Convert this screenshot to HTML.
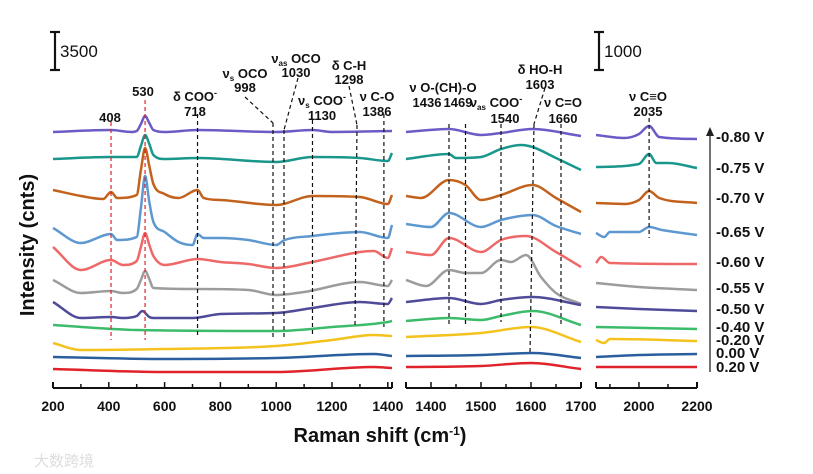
<!DOCTYPE html>
<html><head><meta charset="utf-8"><style>
html,body{margin:0;padding:0;background:#fff;}
svg{display:block;font-family:"Liberation Sans",Arial,sans-serif;}
.ann{font-size:13px;font-weight:bold;fill:#111;text-anchor:middle;}
.tick{font-size:14px;font-weight:bold;fill:#111;text-anchor:middle;}
.vl{font-size:15px;font-weight:bold;fill:#111;}
</style></head><body>
<svg id="chart" width="813" height="474" viewBox="0 0 813 474"></svg>
<script>
// ---- data (stacked intensity, a.u.) ----
const potentials = ["-0.80 V","-0.75 V","-0.70 V","-0.65 V","-0.60 V","-0.55 V","-0.50 V","-0.40 V","-0.20 V","0.00 V","0.20 V"];
const colors = ["#6a5bc6","#1a978c","#c2621c","#5e98d0","#ee6868","#9c9c9c","#4e4c98","#3cbb6b","#f4c21d","#2b5e9e","#e0222b"];
const labelY = [137,168,198,232,262,288,309,327,340,353,367];
// panel 1 (200-1415 cm-1)
const p1wn = [
 [200,408,480,500,515,530,545,560,600,718,1000,1130,1200,1415],
 [200,408,500,515,530,545,560,600,718,1000,1130,1300,1400,1415],
 [200,300,380,408,430,500,515,530,545,560,600,650,718,740,800,1000,1130,1300,1400,1415],
 [200,300,408,430,500,515,530,545,560,600,650,700,718,740,800,900,1000,1030,1130,1300,1400,1415],
 [200,300,408,450,500,515,530,545,560,600,718,800,900,1000,1130,1300,1350,1400,1415],
 [200,300,408,450,500,515,530,545,560,718,900,1000,1100,1300,1400,1415],
 [200,300,408,450,500,520,545,560,700,800,1000,1130,1300,1400,1415],
 [200,500,1000,1200,1400,1415],
 [200,300,600,1000,1200,1350,1415],
 [200,600,1000,1350,1415],
 [200,600,1000,1350,1415]];
const p1val = [
 [248,250,248,249,256,264,257,250,248,250,248,250,248,249],
 [221,223,223,234,245,236,225,221,222,218,223,222,219,227],
 [190,184,181,188,182,185,210,232,214,196,186,182,190,182,180,175,184,183,176,185],
 [152,137,146,140,143,172,204,178,158,148,138,135,146,142,142,140,135,140,144,148,142,155],
 [133,110,120,115,119,133,147,135,124,115,121,118,116,112,118,128,129,122,132],
 [100,87,89,87,91,100,109,101,92,91,90,85,88,98,94,100],
 [78,62,63,62,64,69,63,62,62,66,67,72,78,76,82],
 [55,50,49,53,58,59],
 [37,30,31,34,40,45,44],
 [23,21,22,26,24],
 [11,8,8,13,12]];
// panel 2 (1350-1700 cm-1)
const p2wn = [
 [1350,1436,1500,1540,1603,1700],
 [1350,1436,1450,1500,1540,1580,1603,1650,1700],
 [1350,1380,1436,1469,1500,1540,1603,1650,1700],
 [1350,1400,1436,1500,1540,1603,1650,1700],
 [1350,1400,1436,1500,1540,1590,1650,1700],
 [1350,1390,1436,1469,1500,1540,1560,1590,1620,1650,1700],
 [1350,1436,1500,1540,1603,1700],
 [1350,1436,1500,1540,1603,1700],
 [1350,1500,1600,1700],
 [1350,1500,1603,1700],
 [1350,1500,1600,1700]];
const p2val = [
 [248,251,245,247,251,244],
 [221,226,222,223,231,235,233,222,210],
 [184,182,200,195,180,185,195,182,168],
 [156,153,167,153,160,165,154,146],
 [128,125,142,128,140,144,128,113],
 [100,94,110,107,107,120,118,125,103,87,76],
 [78,82,76,80,83,75],
 [59,62,60,64,69,55],
 [43,47,53,38],
 [24,25,27,22],
 [13,14,17,11]];
// panel 3 (1852-2200 cm-1)
const p3wn = [
 [1852,1950,2000,2035,2070,2200],
 [1852,2000,2035,2060,2100,2200],
 [1852,1950,2000,2035,2070,2200],
 [1852,1880,1900,2000,2035,2080,2200],
 [1852,1870,1900,2200],
 [1852,2000,2200],
 [1852,2000,2200],
 [1852,2200],
 [1852,1880,1900,2200],
 [1852,2000,2200],
 [1852,2200]];
const p3val = [
 [245,242,246,254,243,241],
 [213,216,226,217,217,212],
 [177,176,180,189,182,177],
 [147,143,148,148,153,150,145],
 [117,123,117,116],
 [97,93,90],
 [73,71,69],
 [53,51],
 [40,37,41,39],
 [23,25,26],
 [13,13]];
const ticks1 = [200,400,600,800,1000,1200,1400];
const ticks2 = [1400,1500,1600,1700];
const ticks3 = [2000,2200];

// ---- scales ----
const NS="http://www.w3.org/2000/svg";
const svg=document.getElementById('chart');
function el(t,a,p){const e=document.createElementNS(NS,t);for(const k in a)e.setAttribute(k,a[k]);(p||svg).appendChild(e);return e;}
const panels=[
 {x0:200,x1:1415,px0:53,px1:392,wn:p1wn,val:p1val,ticks:ticks1,minor:100,name:'panel-low'},
 {x0:1350,x1:1700,px0:406,px1:581,wn:p2wn,val:p2val,ticks:ticks2,minor:50,name:'panel-mid'},
 {x0:1852,x1:2200,px0:596,px1:697,wn:p3wn,val:p3val,ticks:ticks3,minor:100,name:'panel-high'}];
const yS=v=>380-v;
function xS(p,w){return p.px0+(w-p.x0)/(p.x1-p.x0)*(p.px1-p.px0);}
// monotone cubic (Fritsch-Carlson) path
function smooth(pts){const n=pts.length;
 if(n<2)return '';
 const d=[],m=[];
 for(let i=0;i<n-1;i++)d.push((pts[i+1][1]-pts[i][1])/(pts[i+1][0]-pts[i][0]));
 m[0]=d[0];m[n-1]=d[n-2];
 for(let i=1;i<n-1;i++){m[i]=(d[i-1]*d[i]<=0)?0:(d[i-1]+d[i])/2;}
 for(let i=0;i<n-1;i++){if(d[i]===0){m[i]=0;m[i+1]=0;continue;}
  const a=m[i]/d[i],b=m[i+1]/d[i],s=a*a+b*b;
  if(s>9){const t=3/Math.sqrt(s);m[i]=t*a*d[i];m[i+1]=t*b*d[i];}}
 let s=`M${pts[0][0].toFixed(1)},${pts[0][1].toFixed(1)}`;
 for(let i=0;i<n-1;i++){const h=(pts[i+1][0]-pts[i][0])/3;
  s+=` C${(pts[i][0]+h).toFixed(1)},${(pts[i][1]+m[i]*h).toFixed(1)} ${(pts[i+1][0]-h).toFixed(1)},${(pts[i+1][1]-m[i+1]*h).toFixed(1)} ${pts[i+1][0].toFixed(1)},${pts[i+1][1].toFixed(1)}`;}
 return s;}

panels.forEach(p=>{
 const g=el('g',{});
 
 
 p.wn.forEach((ws,i)=>{
  const pts=ws.map((w,j)=>[xS(p,w),yS(p.val[i][j])]);
  const path=el('path',{d:smooth(pts),fill:'none',stroke:colors[i],'stroke-width':2.5,'stroke-linejoin':'round'},g);
  
  
 });
 const ax=el('g',{});
 
 
 el('line',{x1:p.px0,x2:p.px1,y1:388,y2:388,stroke:'#111','stroke-width':2},ax);
 el('line',{x1:p.px0,x2:p.px0,y1:382,y2:388,stroke:'#111','stroke-width':2},ax);
 el('line',{x1:p.px1,x2:p.px1,y1:382,y2:388,stroke:'#111','stroke-width':2},ax);
 for(let w=Math.ceil(p.x0/p.minor)*p.minor;w<=p.x1;w+=p.minor){
  const big=p.ticks.includes(w);
  el('line',{x1:xS(p,w),x2:xS(p,w),y1:big?382:384,y2:388,stroke:'#111','stroke-width':1.5},ax);}
 p.ticks.forEach(t=>{const tx=el('text',{x:xS(p,t),y:411,class:'tick'},ax);tx.textContent=t;
  
  });
});

// dashed markers
const p1=panels[0],p2=panels[1],p3=panels[2];
function dash(x1,y1,x2,y2,c,name){const l=el('line',{x1,y1,x2,y2,stroke:c,'stroke-width':1.2,'stroke-dasharray':'4,3'});
 
 }
dash(xS(p1,408),122,xS(p1,408),340,'#e0222b','marker-408');
dash(xS(p1,530),100,xS(p1,530),340,'#e0222b','marker-530');
dash(xS(p1,718),114,xS(p1,718),337,'#111','marker-718');
dash(245,97,273,123,'#111','leader-998');dash(273,123,273,338,'#111','marker-998');
dash(298,78,284,130,'#111','leader-1030');dash(284,130,284,338,'#111','marker-1030');
dash(xS(p1,1130),120,xS(p1,1130),335,'#111','marker-1130');
dash(349,86,357,125,'#111','leader-1298');dash(357,125,355,327,'#111','marker-1298');
dash(xS(p1,1386),114,xS(p1,1386),327,'#111','marker-1386');
dash(xS(p2,1436),124,xS(p2,1436),325,'#111','marker-1436');
dash(xS(p2,1469),124,xS(p2,1469),325,'#111','marker-1469');
dash(xS(p2,1540),124,xS(p2,1540),322,'#111','marker-1540');
dash(545,88,534,124,'#111','leader-1603');dash(534,124,530,353,'#111','marker-1603');
dash(xS(p2,1660),124,xS(p2,1660),325,'#111','marker-1660');
dash(xS(p3,2035),118,xS(p3,2035),238,'#111','marker-2035');

// annotations
function txt(x,y,s,cls,name,extra){const t=el('text',Object.assign({x,y,class:cls},extra||{}));t.innerHTML=s;
 
 return t;}
const anns=[
 [110,122,'408','ann-408',{fill:'#e0222b','font-size':14}],
 [143,96,'530','ann-530',{fill:'#e0222b','font-size':14}],
 [195,101,'δ COO<tspan dy="-5" font-size="9">-</tspan>','ann-dcoo',null],
 [195,116,'718','ann-718',null],
 [245,78,'ν<tspan dy="3" font-size="8">s</tspan><tspan dy="-3"> OCO</tspan>','ann-vsoco',null],
 [245,92,'998','ann-998',null],
 [296,63,'ν<tspan dy="3" font-size="8">as</tspan><tspan dy="-3"> OCO</tspan>','ann-vasoco',null],
 [296,77,'1030','ann-1030',null],
 [349,70,'δ C-H','ann-dch',null],
 [349,84,'1298','ann-1298',null],
 [322,105,'ν<tspan dy="3" font-size="8">s</tspan><tspan dy="-3"> COO</tspan><tspan dy="-5" font-size="9">-</tspan>','ann-vscoo',null],
 [322,120,'1130','ann-1130',null],
 [377,101,'ν C-O','ann-vco',null],
 [377,116,'1386','ann-1386',null],
 [443,92,'ν O-(CH)-O','ann-voch',null],
 [427,107,'1436','ann-1436',null],
 [458,107,'1469','ann-1469',null],
 [496,107,'ν<tspan dy="3" font-size="8">as</tspan><tspan dy="-3"> COO</tspan><tspan dy="-5" font-size="9">-</tspan>','ann-vascoo',null],
 [505,123,'1540','ann-1540',null],
 [540,74,'δ HO-H','ann-dhoh',null],
 [540,89,'1603','ann-1603',null],
 [563,107,'ν C=O','ann-vceo',null],
 [563,123,'1660','ann-1660',null],
 [648,101,'ν C≡O','ann-vcto',null],
 [648,116,'2035','ann-2035',null]];
anns.forEach(a=>txt(a[0],a[1],a[2],'ann',a[3],a[4]));

// scale bars
function sbar(x,y1,y2,label,name){const g=el('g',{});
 
 
 el('line',{x1:x,x2:x,y1,y2,stroke:'#111','stroke-width':2.2},g);
 el('line',{x1:x-5,x2:x+5,y1,y2:y1,stroke:'#111','stroke-width':2.2},g);
 el('line',{x1:x-5,x2:x+5,y1:y2,y2,stroke:'#111','stroke-width':2.2},g);
 const t=el('text',{x:x+5,y:(y1+y2)/2+6,'font-size':17,fill:'#111'},g);t.textContent=label;}
sbar(55,32,70,'3500','scale-bar-3500');
sbar(599,32,70,'1000','scale-bar-1000');

// potential labels + arrow
potentials.forEach((p,i)=>{txt(716,labelY[i]+5,p,'vl','label-'+p.replace(' V','V'),null);});
const ar=el('g',{});


el('line',{x1:710,x2:710,y1:372,y2:134,stroke:'#444','stroke-width':1.5},ar);
el('path',{d:'M706,136 L710,127 L714,136 Z',fill:'#222'},ar);

// axis titles
txt(380,442,'Raman shift (cm<tspan dy="-7" font-size="12">-1</tspan><tspan dy="7">)</tspan>','','x-axis-title',{'font-size':20,'font-weight':'bold','text-anchor':'middle',fill:'#111'});
txt(0,0,'Intensity (cnts)','','y-axis-title',{'font-size':20,'font-weight':'bold','text-anchor':'middle',fill:'#111',transform:'translate(34,245) rotate(-90)'});
txt(34,466,'大数跨境','','watermark',{'font-size':15,fill:'#ddd','font-family':'"Liberation Sans","Noto Sans CJK SC",sans-serif'});
</script>
</body></html>
